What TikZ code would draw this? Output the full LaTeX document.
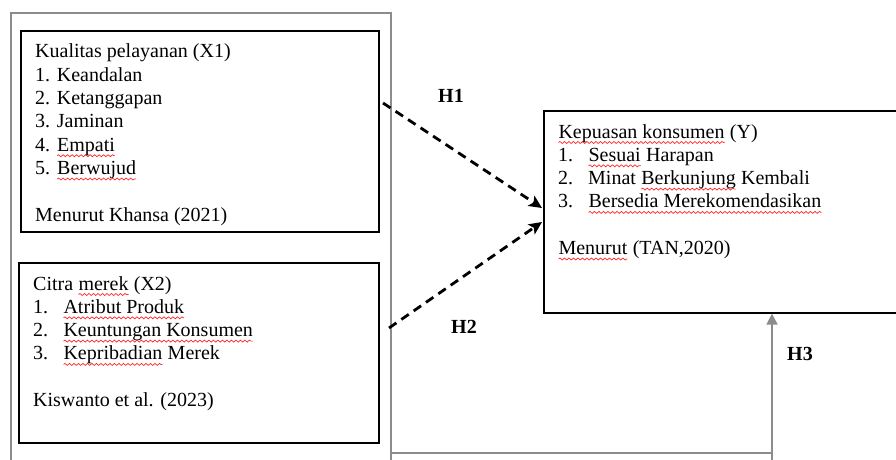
\documentclass[tikz,border=0pt]{standalone}
\usepackage{fontspec}
\setmainfont{Liberation Serif}
\usetikzlibrary{arrows.meta,decorations.pathmorphing}
\newcommand\spl[1]{\tikz[baseline=(sw.base)]{\node[inner sep=0pt,outer sep=0pt] (sw) {#1};
  \draw[red!85!white, line width=0.7pt, decorate, decoration={snake,amplitude=1pt,segment length=4.5pt}]
    ([yshift=-4.5pt]sw.base west) -- ([yshift=-4.5pt]sw.base east);}}
\definecolor{framegray}{HTML}{8C8C8C}
\tikzset{
  txt/.style={anchor=base west, inner sep=0pt, font=\fontsize{20pt}{23.3pt}\selectfont},
  hlab/.style={anchor=base, inner sep=0pt, font=\fontsize{20pt}{23.3pt}\selectfont\bfseries},
  blackbox/.style={draw=black, line width=1.6pt, anchor=north west, inner sep=0pt},
  grayline/.style={draw=framegray, line width=1.6pt},
  dasharrow/.style={draw=black, line width=2.8pt, dash pattern=on 9pt off 6pt,
    -{Stealth[length=13pt,width=12pt,inset=3pt]}},
}
\begin{document}
\begin{tikzpicture}[x=1pt,y=-1pt]
\useasboundingbox (0,0) rectangle (896,460);
\clip (0,0) rectangle (896,460);
% outer gray frame
\node[draw=framegray, line width=1.6pt, anchor=north west, inner sep=0pt,
  minimum width=380pt, minimum height=470pt] (outer) at (10,12) {};
% boxes
\node[blackbox, minimum width=358pt, minimum height=201pt] (x1box) at (20,30) {};
\node[blackbox, minimum width=360pt, minimum height=180pt] (x2box) at (18,262) {};
\node[blackbox, minimum width=370pt, minimum height=202pt] (ybox) at (543,110) {};
% X1 text
\node[txt] (x1t0) at (35,58) {Kualitas pelayanan (X1)};
\node[txt] (x1t1) at (35,81.3) {1. Keandalan};
\node[txt] (x1t2) at (35,104.6) {2. Ketanggapan};
\node[txt] (x1t3) at (35,127.9) {3. Jaminan};
\node[txt] (x1t4) at (35,151.2) {4. \spl{Empati}};
\node[txt] (x1t5) at (35,174.5) {5. \spl{Berwujud}};
\node[txt] (x1t6) at (35,221) {Menurut Khansa (2021)};
% X2 text
\node[txt] (x2t0) at (33,290) {Citra \spl{merek} (X2)};
\node[txt] (x2t1) at (33,313.3) {\makebox[30pt][l]{1.}\spl{Atribut Produk}};
\node[txt] (x2t2) at (33,336.6) {\makebox[30pt][l]{2.}\spl{Keuntungan Konsumen}};
\node[txt] (x2t3) at (33,359.9) {\makebox[30pt][l]{3.}\spl{Kepribadian} Merek};
\node[txt] (x2t4) at (33,406.5) {Kiswanto et al. (2023)};
% Y text
\node[txt] (yt0) at (558,138) {\spl{Kepuasan konsumen} (Y)};
\node[txt] (yt1) at (558,161.3) {\makebox[30pt][l]{1.}\spl{Sesuai} Harapan};
\node[txt] (yt2) at (558,184.6) {\makebox[30pt][l]{2.}Minat \spl{Berkunjung} Kembali};
\node[txt] (yt3) at (558,207.9) {\makebox[30pt][l]{3.}\spl{Bersedia Merekomendasikan}};
\node[txt] (yt4) at (558,254.5) {\spl{Menurut} (TAN,2020)};
% labels
\node[hlab] (h1) at (451,102) {H1};
\node[hlab] (h2) at (464,333) {H2};
\node[hlab] (h3) at (800,360) {H3};
% connectors
\coordinate (h1s) at (383,103);
\coordinate (h1e) at (542,208);
\coordinate (h2s) at (389,328);
\coordinate (h2e) at (542,222);
\draw[dasharrow] (h1s) -- (h1e);
\draw[dasharrow] (h2s) -- (h2e);
\coordinate (h3a) at (391,453);
\coordinate (h3b) at (772,453);
\coordinate (h3c) at (772,470);
\draw[grayline] (h3a) -- (h3b);
\draw[grayline, -{Triangle[length=11pt,width=11pt]}] (h3c) -- (h3b |- ybox.south);
\end{tikzpicture}
\end{document}
